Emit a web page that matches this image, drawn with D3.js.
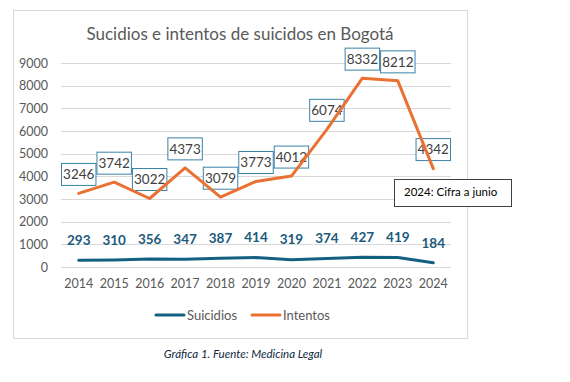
<!DOCTYPE html>
<html><head><meta charset="utf-8">
<script src="https://cdn.jsdelivr.net/npm/d3@7"></script>
<style>
body{margin:0;background:#fff;}
svg{display:block;}
</style></head>
<body>
<svg id="c" width="570" height="382"></svg>
<script>
const years = ["2014","2015","2016","2017","2018","2019","2020","2021","2022","2023","2024"];
const suicidios = [293,310,356,347,387,414,319,374,427,419,184];
const intentos = [3246,3742,3022,4373,3079,3773,4012,6074,8332,8212,4342];
const yTicks = [0,1000,2000,3000,4000,5000,6000,7000,8000,9000];
const seriesNames = ["Suicidios","Intentos"];
const title = "Sucidios e intentos de suicidos en Bogotá";
const note = "2024: Cifra a junio";
const caption = "Gráfica 1. Fuente: Medicina Legal";

const FONT = "Lato, sans-serif";
const svg = d3.select("#c");
const BLUE = "#156082", ORANGE = "#E97132";

// chart frame
svg.append("rect").attr("x",13.5).attr("y",10.5).attr("width",454).attr("height",328)
  .attr("fill","#fff").attr("stroke","#d9d9d9").attr("stroke-width",1);

const x = d3.scaleBand().domain(years).range([61,451]);
const y = d3.scaleLinear().domain([0,9000]).range([267,63]);
const cx = d => x(d) + x.bandwidth()/2;

// gridlines
svg.append("g").selectAll("line").data(yTicks).join("line")
  .attr("x1",61).attr("x2",451).attr("y1",d=>Math.round(y(d))+0.5).attr("y2",d=>Math.round(y(d))+0.5)
  .attr("stroke","#d9d9d9").attr("stroke-width",1);

// y axis labels
const yAxis = d3.axisLeft(y).tickValues(yTicks).tickSize(0).tickPadding(0).tickFormat(d3.format("d"));
const gy = svg.append("g").attr("transform","translate(48,0)").call(yAxis);
gy.select(".domain").remove();
gy.selectAll("text").attr("font-family",FONT).attr("font-size",12.5).attr("fill","#595959");

// x axis labels
const xAxis = d3.axisBottom(x).tickSize(0).tickPadding(0);
const gx = svg.append("g").attr("transform","translate(0,279)").call(xAxis);
gx.select(".domain").remove();
gx.selectAll("text").attr("font-family",FONT).attr("font-size",12.5).attr("fill","#595959").attr("dy","0.71em");

// title
svg.append("text").attr("x",240).attr("y",40).attr("text-anchor","middle")
  .attr("font-family",FONT).attr("font-size",17).attr("fill","#595959").text(title);

// intentos label boxes (drawn under the line)
const bw = x.bandwidth();
const gl = svg.append("g");
gl.selectAll("rect").data(intentos).join("rect")
  .attr("x",(d,i)=>x(years[i])+0.5).attr("y",d=>y(d)-30).attr("width",bw-1).attr("height",22)
  .attr("fill","#fff").attr("stroke","#3b82a8").attr("stroke-width",1);
gl.selectAll("text").data(intentos).join("text")
  .attr("x",(d,i)=>cx(years[i])).attr("y",d=>y(d)-19).attr("dy","0.35em").attr("text-anchor","middle")
  .attr("font-family",FONT).attr("font-size",13.5).attr("fill","#404040").text(d=>d);

// lines
const line = d3.line().x((d,i)=>cx(years[i])).y(d=>y(d));
svg.append("path").datum(intentos).attr("d",line).attr("fill","none").attr("stroke",ORANGE)
  .attr("stroke-width",3).attr("stroke-linejoin","round").attr("stroke-linecap","round");
svg.append("path").datum(suicidios).attr("d",line).attr("fill","none").attr("stroke",BLUE)
  .attr("stroke-width",3).attr("stroke-linejoin","round").attr("stroke-linecap","round");

// suicidios labels
svg.append("g").selectAll("text").data(suicidios).join("text")
  .attr("x",(d,i)=>cx(years[i])).attr("y",d=>y(d)-20).attr("dy","0.35em").attr("text-anchor","middle")
  .attr("font-family",FONT).attr("font-size",13.5).attr("font-weight","bold").attr("fill","#1c5a7c").text(d=>d);

// note box
svg.append("rect").attr("x",394.5).attr("y",179.5).attr("width",117).attr("height",27)
  .attr("fill","#fff").attr("stroke","#404040").attr("stroke-width",1);
svg.append("text").attr("x",404).attr("y",196).attr("font-family",FONT).attr("font-size",11.5)
  .attr("fill","#000").text(note);

// legend
const leg = svg.append("g");
const legX = [[156,184,187],[252,280,283]];
seriesNames.forEach((n,i)=>{
  leg.append("line").attr("x1",legX[i][0]).attr("x2",legX[i][1]).attr("y1",315).attr("y2",315)
    .attr("stroke",i===0?BLUE:ORANGE).attr("stroke-width",3).attr("stroke-linecap","round");
  leg.append("text").attr("x",legX[i][2]).attr("y",315).attr("dy","0.35em")
    .attr("font-family",FONT).attr("font-size",13).attr("fill","#595959").text(n);
});

// caption
svg.append("text").attr("x",243).attr("y",358).attr("text-anchor","middle")
  .attr("font-family",FONT).attr("font-size",11.5).attr("font-style","italic").attr("fill","#0E2841").text(caption);
</script>
</body></html>
